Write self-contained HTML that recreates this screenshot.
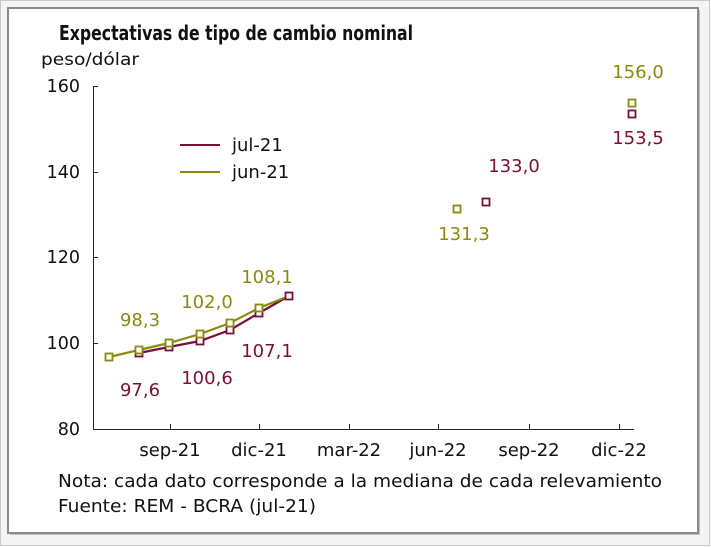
<!DOCTYPE html>
<html><head><meta charset="utf-8"><style>
body{margin:0;background:#fff;width:711px;height:547px;overflow:hidden}
svg{display:block}
text{font-family:"DejaVu Sans","Liberation Sans",sans-serif}
</style></head><body>
<svg width="711" height="547" viewBox="0 0 711 547">
<rect x="0.5" y="0.5" width="709" height="545" fill="#f4f4f4" stroke="#c8c8c8"/>
<rect x="10" y="10" width="690" height="525" fill="#c0c0c0"/>
<rect x="8" y="8" width="690" height="525" fill="#fff" stroke="#8a8a8a" stroke-width="2"/>
<text x="59" y="40" font-family="'Liberation Sans Narrow','Liberation Sans',sans-serif" font-weight="bold" font-size="20" fill="#111" textLength="354" lengthAdjust="spacingAndGlyphs">Expectativas de tipo de cambio nominal</text>
<text x="41" y="65" font-size="17" fill="#111" textLength="98" lengthAdjust="spacingAndGlyphs">peso/dólar</text>
<g font-size="17.5" fill="#111" text-anchor="end">
<text x="80" y="92">160</text><text x="80" y="178">140</text><text x="80" y="263">120</text><text x="80" y="349">100</text><text x="80" y="435">80</text>
</g>
<g stroke="#222" stroke-width="1" fill="none">
<path d="M93.5 86V429.5H634"/>
<path d="M93 86.5h5M93 172.5h5M93 257.5h5M93 343.5h5"/>
<path d="M170.5 429v-5M259.5 429v-5M349.5 429v-5M438.5 429v-5M529.5 429v-5M619.5 429v-5"/>
</g>
<g font-size="18" fill="#111" text-anchor="middle">
<text x="170" y="456">sep-21</text><text x="259" y="456">dic-21</text><text x="349" y="456">mar-22</text><text x="438" y="456">jun-22</text><text x="529" y="456">sep-22</text><text x="619" y="456">dic-22</text>
</g>
<g font-size="18" fill="#111">
<text x="58" y="487" textLength="604" lengthAdjust="spacingAndGlyphs">Nota: cada dato corresponde a la mediana de cada relevamiento</text>
<text x="58" y="512" textLength="258" lengthAdjust="spacingAndGlyphs">Fuente: REM - BCRA (jul-21)</text>
</g>
<path d="M180 145h40" stroke="#7a0f3a" stroke-width="2"/>
<text x="232" y="151" font-size="18" fill="#111">jul-21</text>
<path d="M180 172h40" stroke="#8a8a0e" stroke-width="2"/>
<text x="232" y="178" font-size="18" fill="#111">jun-21</text>
<g fill="none" stroke-width="2.2">
<polyline stroke="#7a0f3a" points="139,353 169,347 200,341 230,330 259,313 289,296"/>
<polyline stroke="#8a8a0e" points="109,357 139,350 169,343 200,334 230,323 259,308 289,296"/>
</g>
<g fill="#fff" stroke="#7a0f3a" stroke-width="1.8">
<rect x="135.5" y="349.5" width="7" height="7"/><rect x="165.5" y="343.5" width="7" height="7"/><rect x="196.5" y="337.5" width="7" height="7"/><rect x="226.5" y="326.5" width="7" height="7"/><rect x="255.5" y="309.5" width="7" height="7"/><rect x="285.5" y="292.5" width="7" height="7"/>
<rect x="482.5" y="198.5" width="7" height="7"/><rect x="628.5" y="110.5" width="7" height="7"/>
</g>
<g fill="#fff" stroke="#8a8a0e" stroke-width="1.8">
<rect x="105.5" y="353.5" width="7" height="7"/><rect x="135.5" y="346.5" width="7" height="7"/><rect x="165.5" y="339.5" width="7" height="7"/><rect x="196.5" y="330.5" width="7" height="7"/><rect x="226.5" y="319.5" width="7" height="7"/><rect x="255.5" y="304.5" width="7" height="7"/>
<rect x="453.5" y="205.5" width="7" height="7"/><rect x="628.5" y="99.5" width="7" height="7"/>
</g>
<g font-size="18" fill="#7a0f3a" text-anchor="middle">
<text x="140" y="396">97,6</text><text x="207" y="384">100,6</text><text x="267" y="357">107,1</text><text x="514" y="172">133,0</text><text x="638" y="144">153,5</text>
</g>
<g font-size="18" fill="#8a8a0e" text-anchor="middle">
<text x="140" y="326">98,3</text><text x="207" y="308">102,0</text><text x="267" y="283">108,1</text><text x="464" y="240">131,3</text><text x="638" y="78">156,0</text>
</g>
</svg>
</body></html>
